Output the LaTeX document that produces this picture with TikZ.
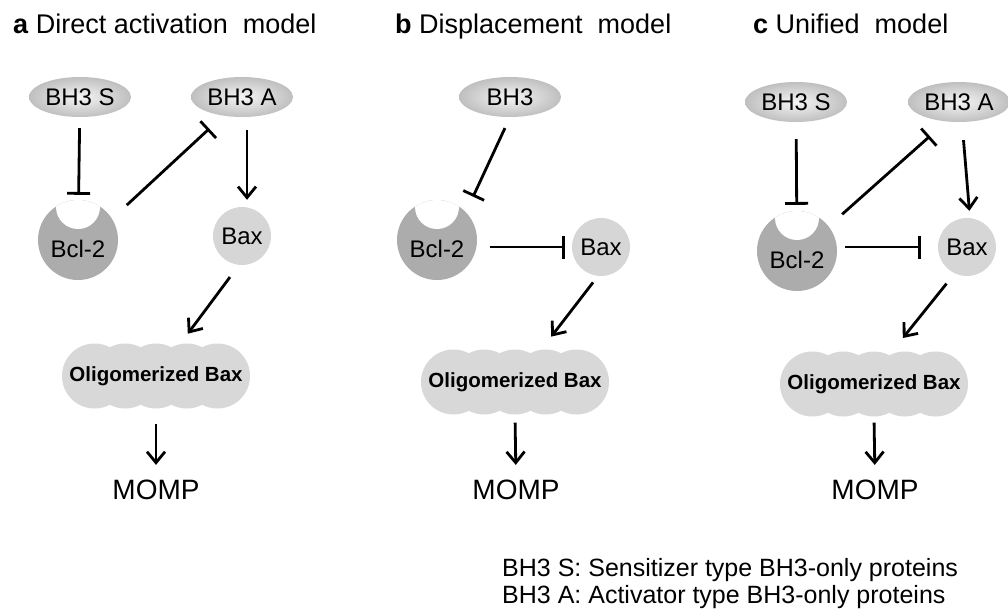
\documentclass[tikz,border=0pt]{standalone}
\usepackage{fontspec}
\setmainfont{Liberation Sans}
\usepackage{tikz}
\usetikzlibrary{positioning,arrows.meta,shapes.geometric}
\definecolor{bclgray}{RGB}{172,172,172}
\definecolor{baxgray}{RGB}{214,214,214}
\definecolor{oligray}{RGB}{216,216,216}
\newcommand\labfont{\fontsize{24}{28}\selectfont}

\begin{document}
\begin{tikzpicture}[x=1pt,y=-1pt,
  bhthree/.style={ellipse,minimum width=102pt,minimum height=40pt,inner sep=0pt,
    inner color=gray!8,outer color=gray!50,font=\labfont},
  baxnode/.style={circle,minimum size=58pt,inner sep=0pt,fill=baxgray,font=\labfont},
  bclnode/.style={circle,minimum size=80pt,inner sep=0pt,fill=bclgray,
    path picture={\fill[white] ([yshift=33pt]path picture bounding box.center) circle[radius=22pt];}},
  oligo/.style={rectangle,minimum width=188pt,minimum height=65pt,inner sep=0pt,
    font=\fontsize{20.5}{24}\selectfont\bfseries,
    path picture={\foreach \k in {0,...,4}
      {\fill[oligray] ([xshift={32.5pt+\k*30.75pt}]path picture bounding box.west) circle[radius=32.5pt];}}},
  momp/.style={inner sep=0pt,font=\fontsize{28}{32}\selectfont},
  title/.style={anchor=base west,inner sep=0pt,font=\fontsize{27}{32}\selectfont},
  legend/.style={anchor=base west,inner sep=0pt,font=\fontsize{25}{30}\selectfont},
  act/.style={-{Straight Barb[length=11pt,width=18pt]},line width=2.8pt},
  inh/.style={-{Bar[width=23pt]},line width=2.8pt}]
\useasboundingbox[fill=white] (0,0) rectangle (1008,614);
% titles
\node[title] (tita) at (13,33) {\textbf{a} Direct activation\ \ model};
\node[title] (titb) at (395,33) {\textbf{b} Displacement\ \ model};
\node[title] (titc) at (753,33) {\textbf{c} Unified\ \ model};
% a: direct activation
\node[bhthree] (bh3sa) at (80,97) {BH3 S};
\node[bhthree] (bh3aa) at (242,97) {BH3 A};
\node[bclnode,label={[font=\labfont,yshift=-9pt]center:Bcl-2}] (bcla) at (78,240) {};
\node[baxnode] (baxa) at (242,236) {Bax};
\node[oligo] (olia) at (156,376) {Oligomerized Bax};
\node[momp] (mompa) at (156,490) {MOMP};
\draw[inh,shorten <=11pt,shorten >=5pt] (bh3sa) -- (bcla);
\draw[inh,shorten <=20pt,shorten >=19pt] (bcla.32) -- (bh3aa.225);
\draw[act,shorten <=13pt,shorten >=7pt] ([xshift=5pt]bh3aa.south) -- ([xshift=5pt]baxa.north);
\draw[act,shorten <=15pt,shorten >=12pt] (baxa.264) -- (olia.53);
\draw[act,shorten <=15pt,shorten >=15pt] (olia.south) -- (mompa.north);
% b: displacement
\node[bhthree] (bh3b) at (510,97) {BH3};
\node[bclnode,label={[font=\labfont,yshift=-9pt]center:Bcl-2}] (bclb) at (437,240) {};
\node[baxnode] (baxb) at (601,247) {Bax};
\node[oligo] (olib) at (515,382) {Oligomerized Bax};
\node[momp] (mompb) at (516,490) {MOMP};
\draw[inh,shorten <=12pt,shorten >=17pt] (bh3b.south) -- (bclb.44);
\draw[inh,shorten <=13pt,shorten >=7pt] (bclb.east |- baxb.west) -- (baxb.west);
\draw[act,shorten <=8pt,shorten >=16pt] (baxb.264) -- (olib.51);
\draw[act,shorten <=8pt,shorten >=15pt] (olib.south) -- (mompb.north);
% c: unified
\node[bhthree] (bh3sc) at (796,102) {BH3 S};
\node[bhthree] (bh3ac) at (959,102) {BH3 A};
\node[bclnode,label={[font=\labfont,yshift=-9pt]center:Bcl-2}] (bclc) at (797,251) {};
\node[baxnode] (baxc) at (967,247) {Bax};
\node[oligo] (olic) at (874,384) {Oligomerized Bax};
\node[momp] (mompc) at (875,490) {MOMP};
\draw[inh,shorten <=17pt,shorten >=6pt] (bh3sc) -- (bclc);
\draw[inh,shorten <=18pt,shorten >=22pt] (bclc.38) -- (bh3ac.237);
\draw[act,shorten <=18pt,shorten >=7pt] ([xshift=3pt]bh3ac.south) -- ([xshift=3pt]baxc.north);
\draw[inh,shorten <=8pt,shorten >=17pt] (bclc.east |- baxc.west) -- (baxc.west);
\draw[act,shorten <=13pt,shorten >=17pt] (baxc.245) -- (olic.61);
\draw[act,shorten <=6pt,shorten >=15pt] (olic.south) -- (mompc.north);
% legend
\node[legend] (keys) at (502,576) {BH3 S: Sensitizer type BH3-only proteins};
\node[legend] (keya) at (502,603) {BH3 A: Activator type BH3-only proteins};
\end{tikzpicture}
\end{document}
